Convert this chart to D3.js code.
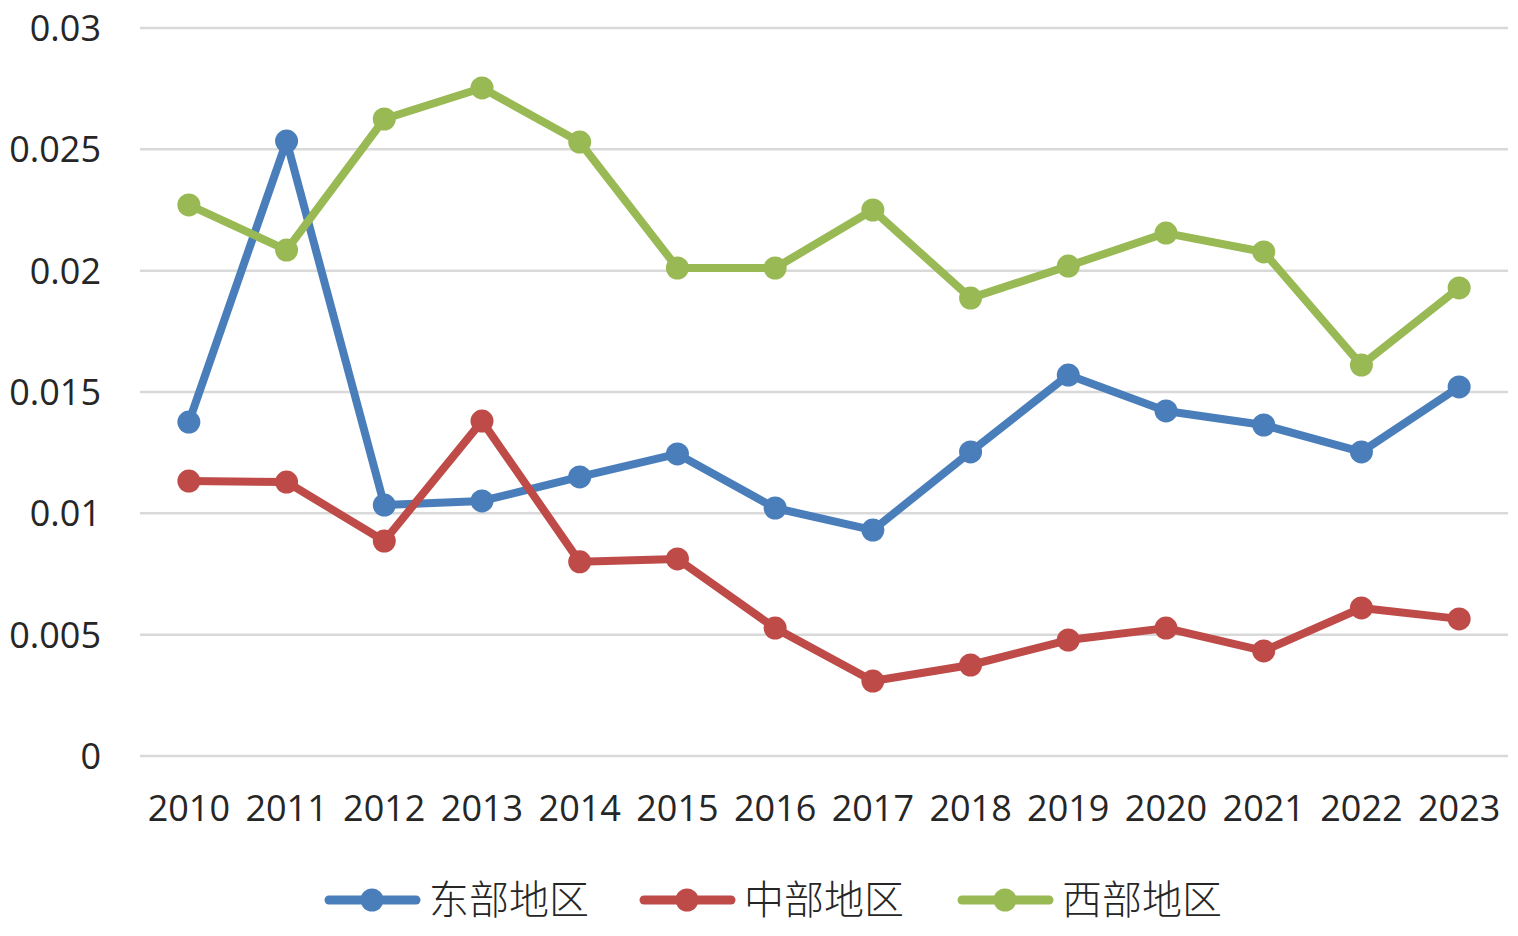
<!DOCTYPE html>
<html><head><meta charset="utf-8">
<script src="https://cdn.jsdelivr.net/npm/d3@7"></script>
<style>body{margin:0;background:#fff;} svg{display:block;}</style>
</head><body>
<svg id="c" width="1518" height="936"></svg>
<script>
const years = ["2010","2011","2012","2013","2014","2015","2016","2017","2018","2019","2020","2021","2022","2023"];
const seriesNames = ["东部地区","中部地区","西部地区"];
const east = [0.01376,0.02534,0.01034,0.01051,0.0115,0.01245,0.01022,0.00931,0.01253,0.0157,0.01422,0.01364,0.01253,0.01521];
const central = [0.01133,0.01129,0.00886,0.0138,0.008,0.00812,0.00527,0.00309,0.00375,0.00478,0.00527,0.00433,0.0061,0.00565];
const west = [0.02271,0.02085,0.02625,0.02753,0.0253,0.02011,0.02011,0.0225,0.01887,0.02019,0.02155,0.02077,0.01611,0.01929];
const yTicks = [0,0.005,0.01,0.015,0.02,0.025,0.03];
const colors = ["#4A7EBB","#BE4B48","#98B954"];

const svg = d3.select("#c");
const L=140,R=1508,T=28,B=756;
const x = d3.scaleBand().domain(years).range([L,R]);
const y = d3.scaleLinear().domain([0,0.03]).range([B,T]);
const font = "'Open Sans', 'Liberation Sans', sans-serif";

// gridlines
svg.append("g").selectAll("line").data(yTicks).join("line")
  .attr("x1",L).attr("x2",R).attr("y1",d=>y(d)).attr("y2",d=>y(d))
  .attr("stroke","#d9d9d9").attr("stroke-width",2.5);

// y axis labels
const yAxis = d3.axisLeft(y).tickValues(yTicks).tickSize(0).tickPadding(0)
  .tickFormat(d=>d===0?"0":String(+d.toFixed(3)));
const gy = svg.append("g").attr("transform",`translate(101,0)`).call(yAxis);
gy.select(".domain").remove();
gy.selectAll("text").attr("font-family",font).attr("font-size",36).attr("fill","#262626").attr("dy","0.35em");

// x axis labels
const xAxis = d3.axisBottom(x).tickSize(0).tickPadding(0);
const gx = svg.append("g").attr("transform",`translate(0,${B+39})`).call(xAxis);
gx.select(".domain").remove();
gx.selectAll("text").attr("font-family",font).attr("font-size",36).attr("fill","#262626").attr("dy","0.71em");

const data = [east,central,west];
const line = d3.line().x((d,i)=>x(years[i])+x.bandwidth()/2).y(d=>y(d));
data.forEach((s,k)=>{
  const g = svg.append("g");
  g.append("path").attr("d",line(s)).attr("fill","none").attr("stroke",colors[k])
    .attr("stroke-width",8).attr("stroke-linejoin","round").attr("stroke-linecap","round");
  g.selectAll("circle").data(s).join("circle")
    .attr("cx",(d,i)=>x(years[i])+x.bandwidth()/2).attr("cy",d=>y(d)).attr("r",11.5)
    .attr("fill",colors[k]);
});

// legend
const legX = [325,640,958];
const legY = 900;
seriesNames.forEach((n,k)=>{
  const g = svg.append("g").attr("transform",`translate(${legX[k]},${legY})`);
  g.append("line").attr("x1",4).attr("x2",91).attr("y1",0).attr("y2",0)
    .attr("stroke",colors[k]).attr("stroke-width",9).attr("stroke-linecap","round");
  g.append("circle").attr("cx",47).attr("cy",0).attr("r",11.5).attr("fill",colors[k]);
  g.append("text").attr("x",104).attr("y",0).attr("dy","0.36em")
    .attr("font-family","'Noto Sans CJK SC', sans-serif").attr("font-weight",300)
    .attr("font-size",40).attr("fill","#262626").text(n);
});
</script>
</body></html>
